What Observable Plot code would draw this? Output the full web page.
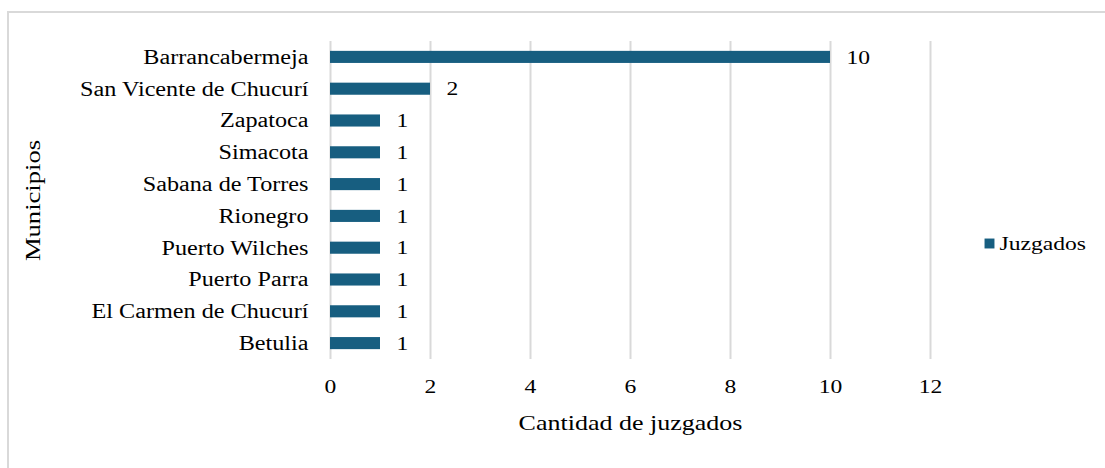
<!DOCTYPE html>
<html>
<head>
<meta charset="utf-8">
<script src="https://cdn.jsdelivr.net/npm/d3@7"></script>
<script src="https://cdn.jsdelivr.net/npm/@observablehq/plot@0.6"></script>
<style>
  html, body { margin: 0; padding: 0; background: #fff; overflow: hidden; }
  #wrap { position: relative; width: 1105px; height: 468px; overflow: hidden; }
  #border { position: absolute; left: 7px; top: 11px; width: 1120px; height: 480px; border: 2px solid #d9d9d9; box-sizing: border-box; }
  #chart { position: absolute; left: 0; top: 0; }
  #chart svg, #chart svg text { font-family: "Liberation Serif", "Times New Roman", serif !important; }
</style>
</head>
<body>
<div id="wrap"><div id="border"></div><div id="chart"></div></div>
<script>
const municipios = ["Barrancabermeja", "San Vicente de Chucurí", "Zapatoca", "Simacota", "Sabana de Torres", "Rionegro", "Puerto Wilches", "Puerto Parra", "El Carmen de Chucurí", "Betulia"];
const juzgados = [10, 2, 1, 1, 1, 1, 1, 1, 1, 1];
const xTicks = [0, 2, 4, 6, 8, 10, 12];
const xTitle = "Cantidad de juzgados";
const yTitle = "Municipios";
const seriesName = "Juzgados";

const data = municipios.map((m, i) => ({municipio: m, value: juzgados[i]}));
const color = "#175e80";
const serif = "Liberation Serif";

const chart = Plot.plot({
  width: 1105,
  height: 468,
  marginLeft: 330,
  marginRight: 175,
  marginTop: 41,
  marginBottom: 109,
  style: {fontFamily: serif, fontSize: "19.5px", color: "#000", background: "transparent"},
  x: {domain: [0, 12], ticks: xTicks, label: null},
  y: {domain: municipios, label: null, paddingInner: 0.62, paddingOuter: 0.31, round: false},
  marks: [
    Plot.gridX(xTicks, {stroke: "#d9d9d9", strokeOpacity: 1, strokeWidth: 2}),
    Plot.axisX({ticks: xTicks, tickSize: 0, tickPadding: 20, label: null, fontSize: 19.5, fontFamily: serif}),
    Plot.axisY({tickSize: 0, tickPadding: 22, label: null, fontSize: 20, fontFamily: serif}),
    Plot.barX(data, {x: "value", y: "municipio", fill: color}),
    Plot.text(data, {x: "value", y: "municipio", text: d => String(d.value), textAnchor: "start", dx: 16, fontSize: 19.5, fontFamily: serif, fill: "#000"}),
    Plot.text([xTitle], {frameAnchor: "bottom", dy: 64, lineAnchor: "middle", fontSize: 21.5, fontFamily: serif, fill: "#000", text: d => d}),
    Plot.text([yTitle], {frameAnchor: "left", dx: -298, rotate: -90, lineAnchor: "middle", textAnchor: "middle", fontSize: 22, fontFamily: serif, fill: "#000", text: d => d}),
    Plot.dot([seriesName], {frameAnchor: "right", dx: 59, dy: 43, symbol: "square", r: 5.6, fill: color, stroke: "none"}),
    Plot.text([seriesName], {frameAnchor: "right", dx: 69, dy: 43, textAnchor: "start", lineAnchor: "middle", fontSize: 19.5, fontFamily: serif, fill: "#000", text: d => d})
  ]
});
// Stretch glyphs horizontally (reference text is wide), around each text's own anchor
chart.querySelectorAll("text").forEach(t => {
  const tr = t.getAttribute("transform");
  if (tr && !t.getAttribute("x")) {
    t.setAttribute("transform", tr + " scale(1.21,1)");
  }
});
document.getElementById("chart").appendChild(chart);
</script>
</body>
</html>
